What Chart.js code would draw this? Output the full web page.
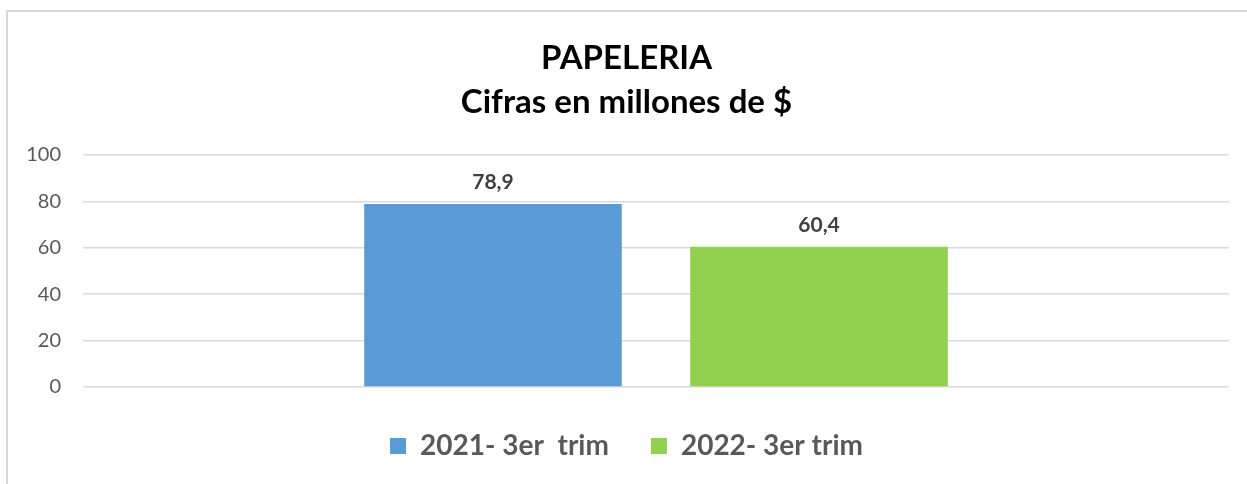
<!DOCTYPE html>
<html>
<head>
<meta charset="utf-8">
<script src="https://cdn.jsdelivr.net/npm/chart.js@4.4.1/dist/chart.umd.min.js"></script>
<style>
  html, body { margin: 0; padding: 0; background: #fff; overflow: hidden; }
  #frame {
    position: absolute; left: 6px; top: 10px; width: 1400px; height: 600px;
    border-left: 2px solid #d9d9d9; border-top: 2px solid #d9d9d9;
  }
  /* the original frame runs past the right edge of the picture */
  #wrap { position: absolute; left: 0; top: 0; width: 1264px; height: 484px; }
</style>
</head>
<body>
<div id="frame"></div>
<div id="wrap"><canvas id="chart"></canvas></div>
<script>
  // chart data
  const TITLE = ['PAPELERIA', 'Cifras en millones de $'];
  const CATEGORIES = [''];
  const SERIES_NAMES = ['2021- 3er  trim', '2022- 3er trim'];
  const VALUES_2021 = [78.9];
  const VALUES_2022 = [60.4];
  const Y_TICKS = [0, 20, 40, 60, 80, 100];

  const COLORS = ['#5b9bd5', '#92d050'];
  const FONT = 'Lato, "Open Sans", sans-serif';

  // value labels above the bars, comma decimal like the original
  const barLabels = {
    id: 'barLabels',
    afterDatasetsDraw(chart) {
      const ctx = chart.ctx;
      ctx.save();
      ctx.font = 'bold 21px ' + FONT;
      ctx.fillStyle = '#404040';
      ctx.textAlign = 'center';
      ctx.textBaseline = 'middle';
      chart.data.datasets.forEach((ds, i) => {
        chart.getDatasetMeta(i).data.forEach((bar, j) => {
          const txt = ds.data[j].toFixed(1).replace('.', ',');
          ctx.fillText(txt, bar.x, bar.y - 22);
        });
      });
      ctx.restore();
    }
  };

  new Chart(document.getElementById('chart'), {
    type: 'bar',
    data: {
      labels: CATEGORIES,
      datasets: [
        { label: SERIES_NAMES[0], data: VALUES_2021, backgroundColor: COLORS[0] },
        { label: SERIES_NAMES[1], data: VALUES_2022, backgroundColor: COLORS[1] },
      ],
    },
    options: {
      responsive: true,
      maintainAspectRatio: false,
      animation: false,
      categoryPercentage: 0.569,
      barPercentage: 0.79,
      layout: { padding: { top: 36, right: 35, bottom: 14, left: 24 } },
      plugins: {
        title: {
          display: true,
          text: TITLE,
          color: '#000',
          font: { family: FONT, size: 33, weight: 'bold', lineHeight: 1.333 },
          padding: { top: 0, bottom: 31 },
        },
        legend: {
          position: 'bottom',
          labels: {
            color: '#595959',
            font: { family: FONT, size: 28, weight: 'bold' },
            boxWidth: 16,
            boxHeight: 16,
            padding: 42,
          },
        },
        tooltip: { enabled: false },
      },
      scales: {
        x: {
          grid: { display: false },
          border: { display: false },
          ticks: { display: false },
          afterFit(scale) { scale.height = 3; },
        },
        y: {
          min: 0,
          max: 100,
          afterBuildTicks(scale) { scale.ticks = Y_TICKS.map(v => ({ value: v })); },
          grid: { color: '#d9d9d9', lineWidth: 1.5, drawTicks: false },
          border: { display: false },
          ticks: { color: '#595959', font: { family: FONT, size: 20 }, padding: 22 },
          afterFit(scale) { scale.width = 59; },
        },
      },
    },
    plugins: [barLabels],
  });
</script>
</body>
</html>
